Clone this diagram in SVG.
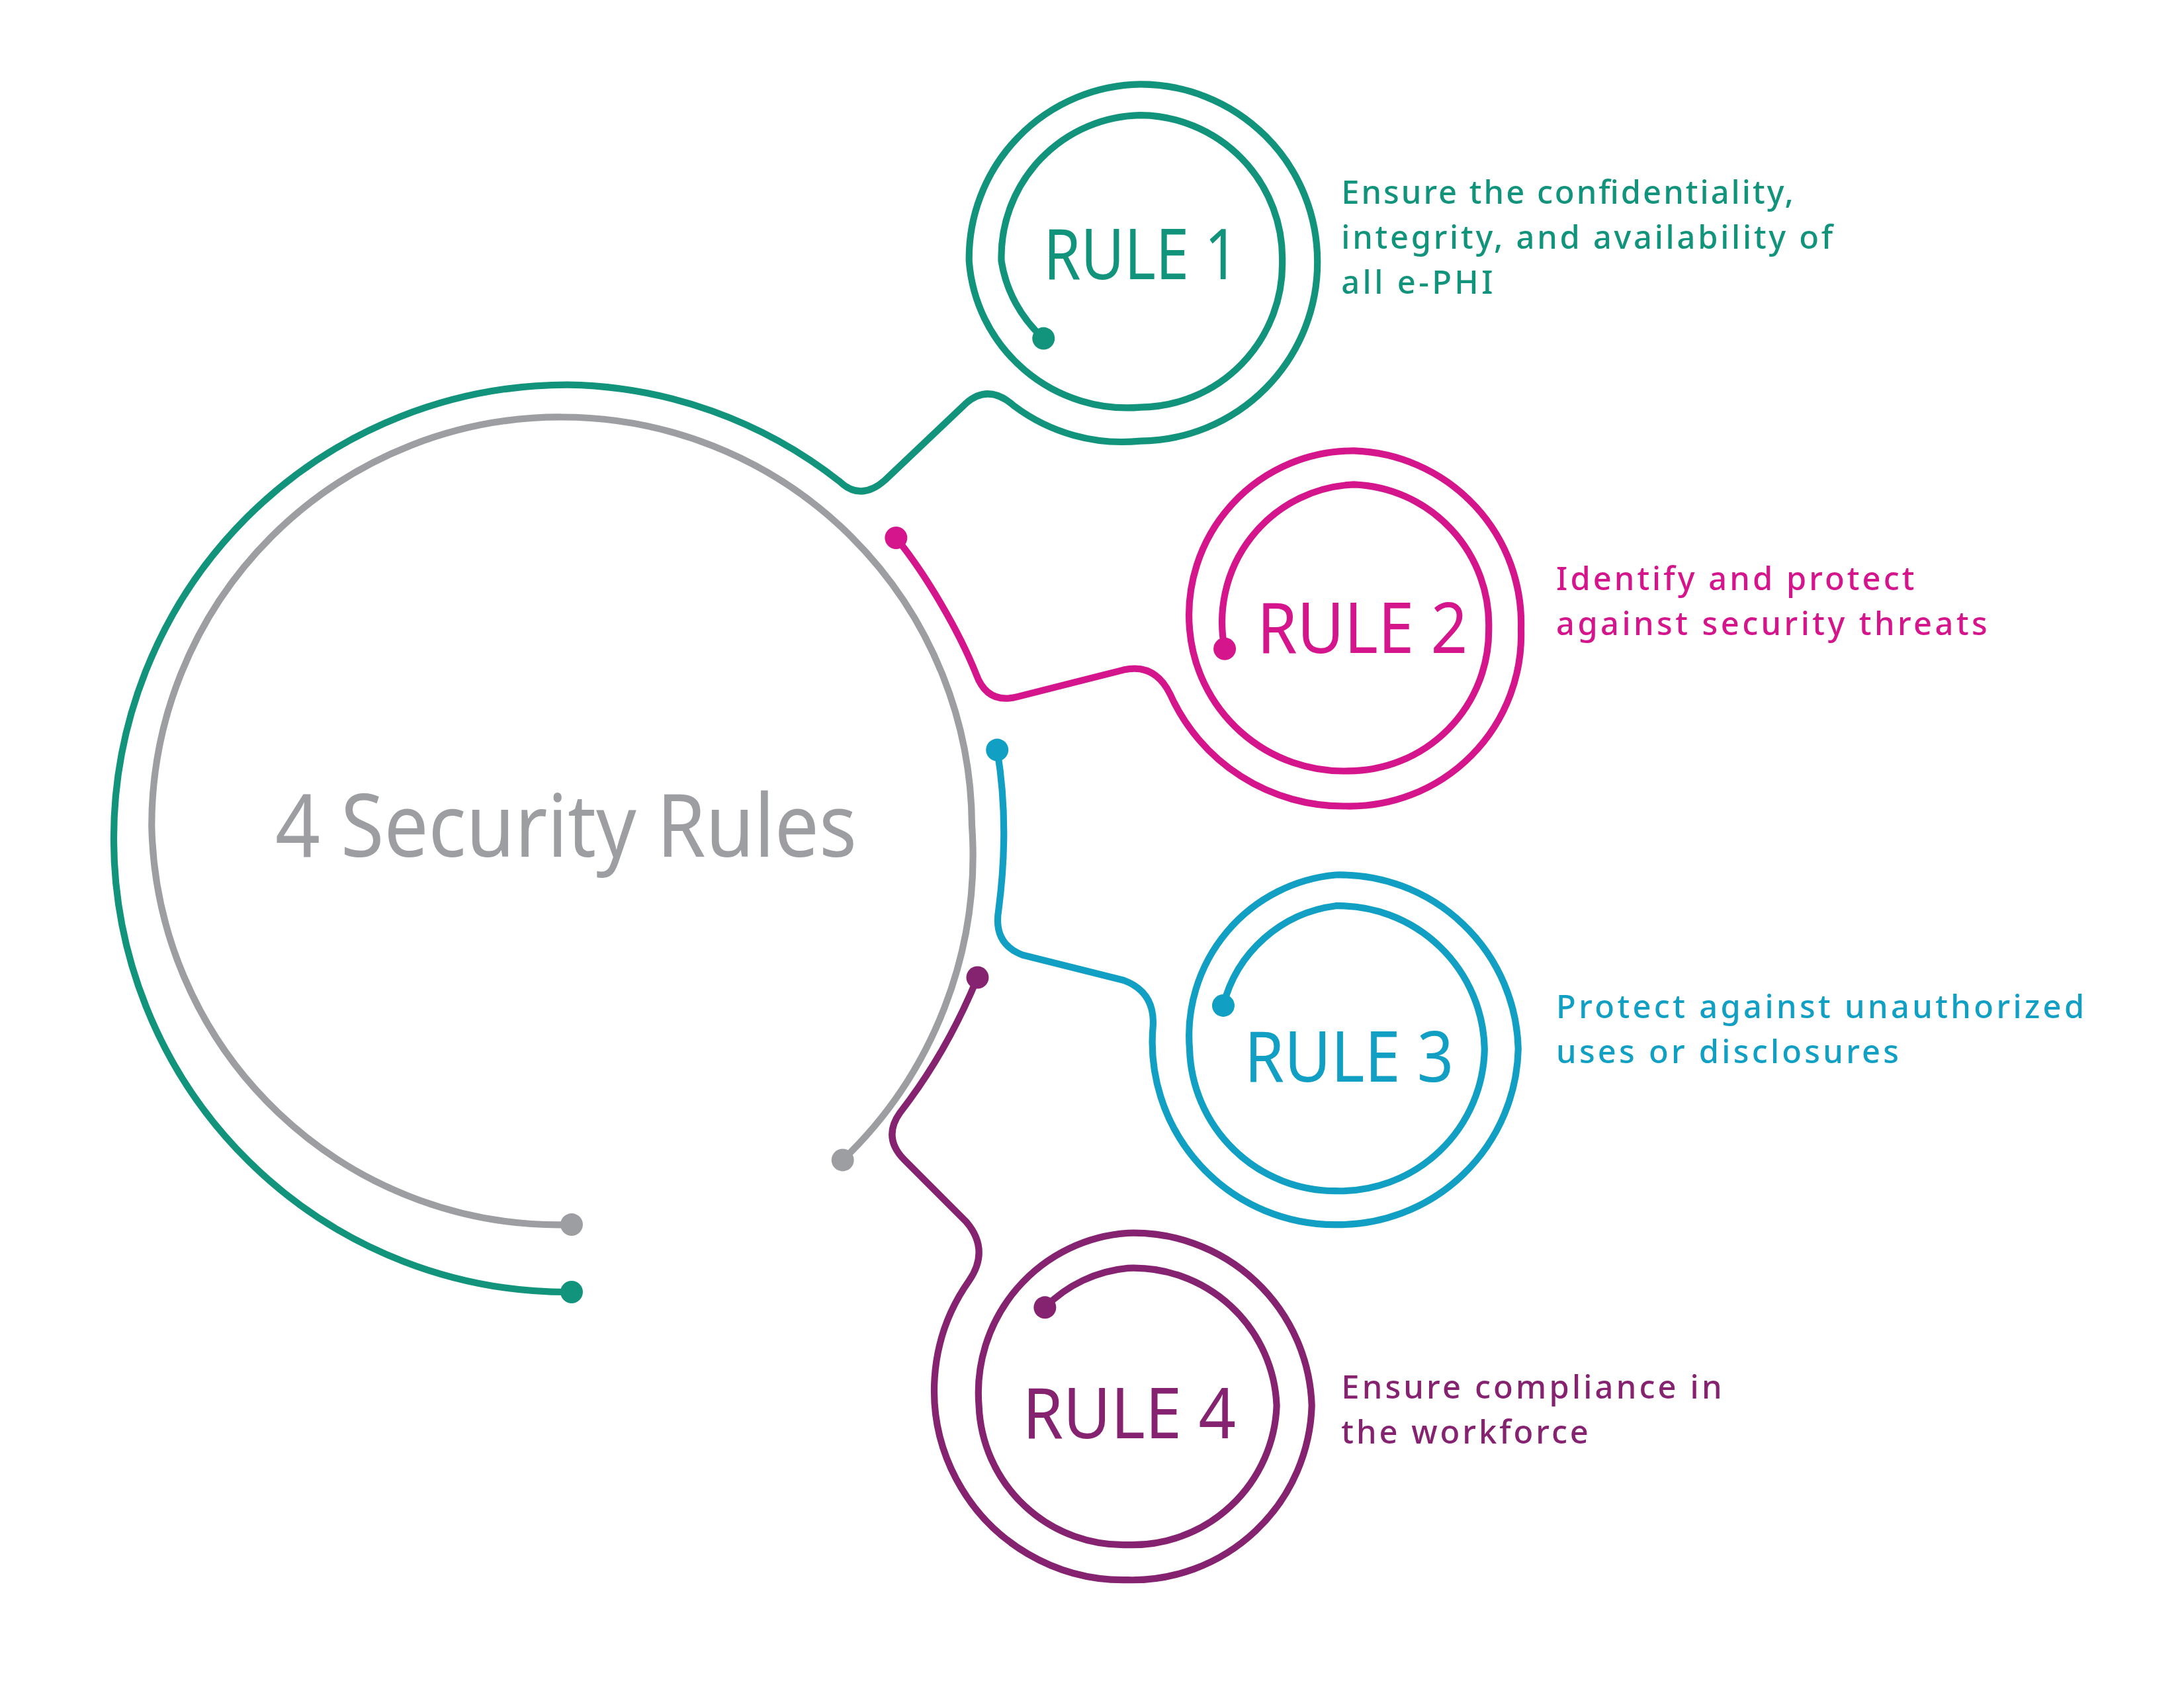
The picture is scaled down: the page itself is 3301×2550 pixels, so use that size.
<svg xmlns="http://www.w3.org/2000/svg" width="3301" height="2550" viewBox="0 0 3301 2550">
<style>
.ln{fill:none;stroke-width:4.8;stroke-linecap:round;stroke-linejoin:round}
.g{stroke:#12937C}.m{stroke:#D4158C}.c{stroke:#119FC4}.p{stroke:#862370}.y{stroke:#9D9EA2}
.fg{fill:#12937C}.fm{fill:#D4158C}.fc{fill:#119FC4}.fp{fill:#862370}.fy{fill:#9D9EA2}
.rule{font-family:"Noto Sans","Liberation Sans",sans-serif;font-size:50px}
.desc{font-family:"Noto Sans","Liberation Sans",sans-serif;font-size:23px;font-weight:500}
</style>
<rect width="3301" height="2550" fill="#fff"/>
<g transform="scale(2.1228)">
<g id="connectors">
<path class="ln y" d="M407,872 A290,290 0 0 1 108,588 A291,291 0 0 1 400,297 A292,292 0 0 1 692,588 A300,300 0 0 1 600,826"/>
<path class="ln g" d="M407,920 A323,323 0 0 1 81,597 A323,323 0 0 1 404,274 A321,321 0 0 1 598,343 Q613,357 630,342 L688,287 Q704,273 722,289 A128,128 0 0 0 812,314 A127,127 0 0 0 938,186 A126,126 0 0 0 812,60 A124,124 0 0 0 690,186 A113,113 0 0 0 812,290 A102,102 0 0 0 913,186 A102,102 0 0 0 812,82 A101,101 0 0 0 713,186 A94,94 0 0 0 743,241"/>
<path class="ln m" d="M638,383 C660,410 683,450 695,480 Q703,502 725,496 L800,477 Q822,472 833,494 A135,135 0 0 0 958,574 A122,122 0 0 0 1083,448 A123,123 0 0 0 964,321 A117,117 0 0 0 847,448 A110,110 0 0 0 960,549 A100,100 0 0 0 1060,448 A100,100 0 0 0 964,345 A98,98 0 0 0 872,462"/>
<path class="ln c" d="M710,534 C716,570 716,610 711,648 Q707,672 728,680 L800,698 Q822,706 821,730 A130,130 0 0 0 951,872 A128,128 0 0 0 1081,747 A127,127 0 0 0 951,623 A115,115 0 0 0 847,747 A104,104 0 0 0 951,848 A103,103 0 0 0 1057,747 A104,104 0 0 0 951,645 A95,95 0 0 0 871,716"/>
<path class="ln p" d="M696,696 C680,735 662,765 641,792 Q628,810 644,826 L688,870 Q705,890 690,912 A135,135 0 0 0 803,1125 A128,128 0 0 0 934,1001 A127,127 0 0 0 803,878 A114,114 0 0 0 697,1001 A103,103 0 0 0 803,1100 A103,103 0 0 0 909,1001 A102,102 0 0 0 803,903 A95,95 0 0 0 744,931"/>
<circle class="fy" cx="407" cy="872" r="8"/><circle class="fy" cx="600" cy="826" r="8"/>
<circle class="fg" cx="407" cy="920" r="8"/><circle class="fg" cx="743" cy="241" r="8"/>
<circle class="fm" cx="638" cy="383" r="8"/><circle class="fm" cx="872" cy="462" r="8"/>
<circle class="fc" cx="710" cy="534" r="8"/><circle class="fc" cx="871" cy="716" r="8"/>
<circle class="fp" cx="696" cy="696" r="8"/><circle class="fp" cx="744" cy="931" r="8"/>
</g>
<g id="main"><text x="196" y="610" class="fy" font-family="Noto Sans, Liberation Sans, sans-serif" font-size="62" textLength="414" lengthAdjust="spacingAndGlyphs">4 Security Rules</text></g>
<g id="rule1"><text x="743" y="199" class="rule fg" textLength="139" lengthAdjust="spacingAndGlyphs">RULE 1</text>
<text class="desc fg"><tspan x="955" y="145" textLength="322">Ensure the confidentiality,</tspan><tspan x="955" y="177" textLength="350">integrity, and availability of</tspan><tspan x="955" y="209" textLength="108">all e-PHI</tspan></text></g>
<g id="rule2"><text x="895" y="465" class="rule fm" textLength="150" lengthAdjust="spacingAndGlyphs">RULE 2</text>
<text class="desc fm"><tspan x="1108" y="420" textLength="255">Identify and protect</tspan><tspan x="1108" y="452" textLength="307">against security threats</tspan></text></g>
<g id="rule3"><text x="886" y="770" class="rule fc" textLength="149" lengthAdjust="spacingAndGlyphs">RULE 3</text>
<text class="desc fc"><tspan x="1108" y="725" textLength="376">Protect against unauthorized</tspan><tspan x="1108" y="757" textLength="244">uses or disclosures</tspan></text></g>
<g id="rule4"><text x="728" y="1024" class="rule fp" textLength="152" lengthAdjust="spacingAndGlyphs">RULE 4</text>
<text class="desc fp"><tspan x="955" y="996" textLength="271">Ensure compliance in</tspan><tspan x="955" y="1028" textLength="176">the workforce</tspan></text></g>
</g>
</svg>
